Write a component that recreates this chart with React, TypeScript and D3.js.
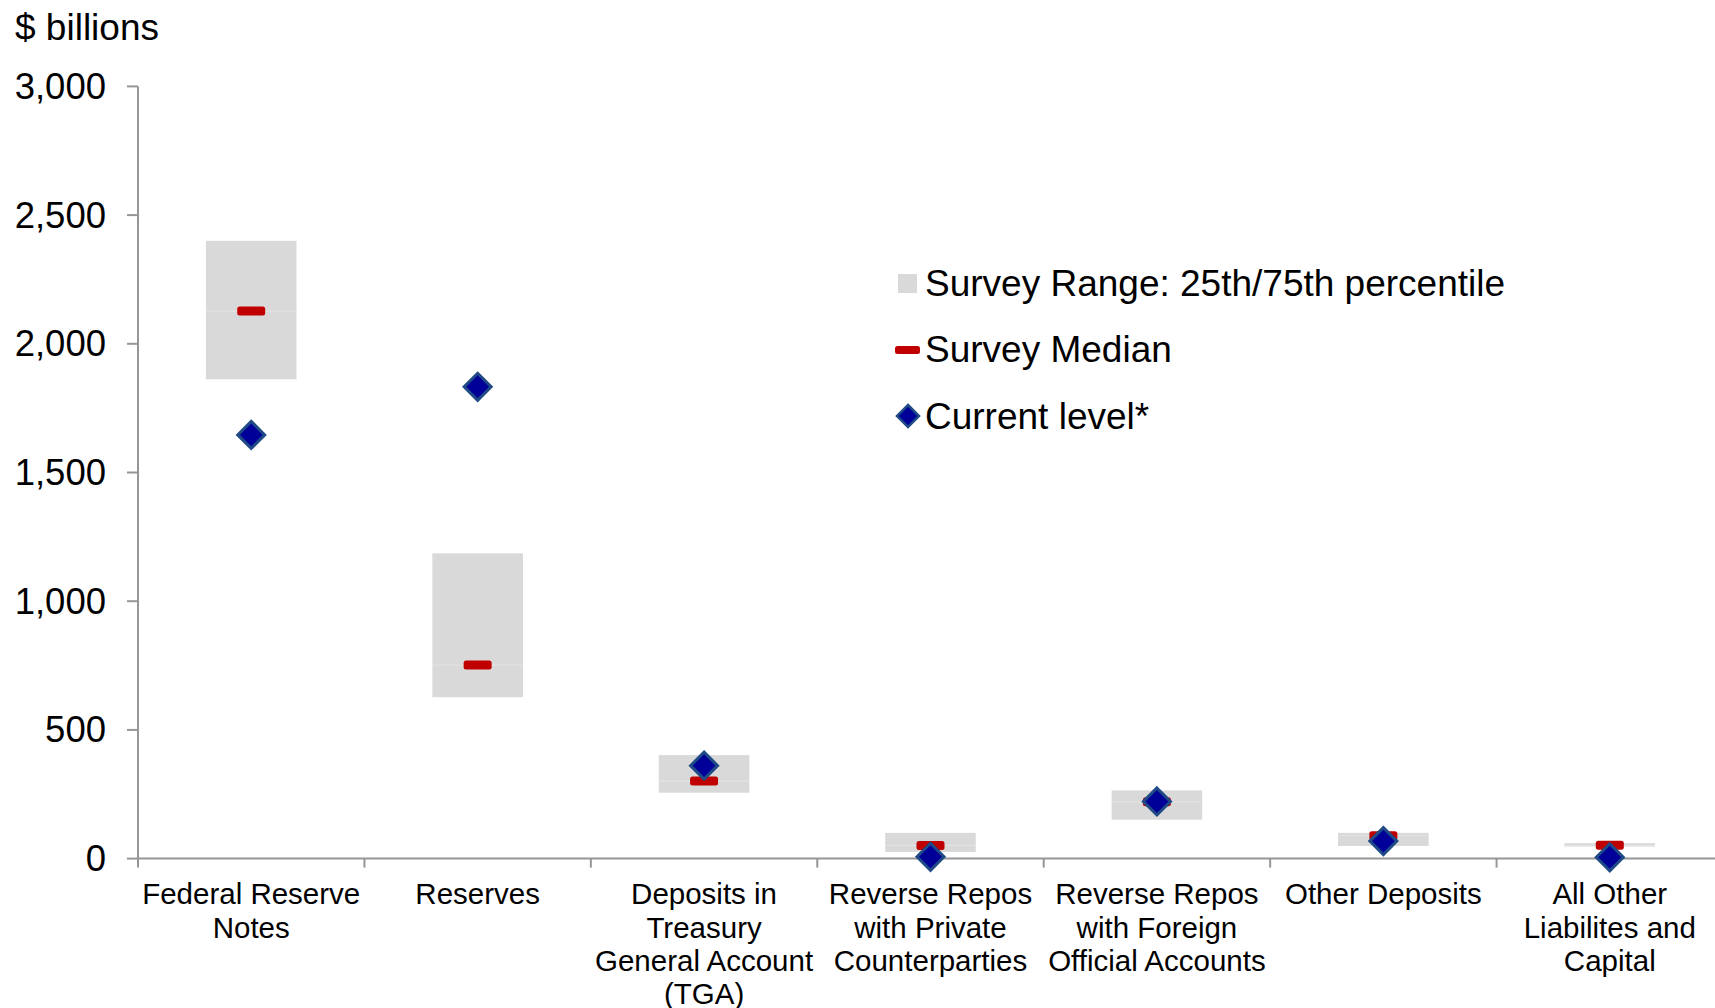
import React from "react";
import * as d3 from "d3";

const categories: string[][] = [
  ["Federal Reserve", "Notes"],
  ["Reserves"],
  ["Deposits in", "Treasury", "General Account", "(TGA)"],
  ["Reverse Repos", "with Private", "Counterparties"],
  ["Reverse Repos", "with Foreign", "Official Accounts"],
  ["Other Deposits"],
  ["All Other", "Liabilites and", "Capital"],
];
const rangeLow = [1862, 627, 256, 26, 151, 49, 47];
const rangeHigh = [2400, 1186, 402, 100, 265, 100, 60];
const median = [2127, 752, 301, 51, 221, 89, 52];
const current = [1646, 1833, 361, 7, 222, 68, 5];
const yTicks = [0, 500, 1000, 1500, 2000, 2500, 3000];
const legendItems = ["Survey Range: 25th/75th percentile", "Survey Median", "Current level*"];

const W = 1715;
const H = 1008;
const FONT = "'Liberation Sans', Arial, sans-serif";

export default function App() {
  const left = 138;
  const right = 1723;
  const y = d3.scaleLinear().domain([0, 3000]).range([858.6, 86.4]);
  const idx = categories.map((_, i) => String(i));
  const x = d3.scaleBand().domain(idx).range([left, right]).paddingInner(0).paddingOuter(0);
  const bw = x.bandwidth();
  const boxW = bw * 0.4;
  const medW = 28;
  const medH = 9;
  const dR = 13.5;
  const axisColor = "#969696";
  const diamond = (cx: number, cy: number, r: number) =>
    `M${cx},${cy - r}L${cx + r},${cy}L${cx},${cy + r}L${cx - r},${cy}Z`;

  return (
    <svg width={W} height={H} style={{ position: "absolute", left: 0, top: 0, background: "#fff" }} fontFamily={FONT}>
      <text x={15} y={27} dominantBaseline="central" fontSize={37} fill="#000">$ billions</text>
      {/* y axis */}
      <line x1={left} x2={left} y1={y(3000)} y2={y(0)} stroke={axisColor} strokeWidth={2} />
      {yTicks.map((t) => (
        <g key={t}>
          <line x1={left - 11} x2={left} y1={y(t)} y2={y(t)} stroke={axisColor} strokeWidth={2} />
          <text x={106} y={y(t)} textAnchor="end" dominantBaseline="central" fontSize={36.5} fill="#000">
            {d3.format(",")(t)}
          </text>
        </g>
      ))}
      {/* boxes */}
      {idx.map((k, i) => {
        const cx = (x(k) as number) + bw / 2;
        return (
          <g key={"b" + k}>
            <rect x={cx - boxW / 2} y={y(rangeHigh[i])} width={boxW} height={y(rangeLow[i]) - y(rangeHigh[i])} fill="#d9d9d9" />
            <line x1={cx - boxW / 2} x2={cx + boxW / 2} y1={y(median[i])} y2={y(median[i])} stroke="#e4e4e4" strokeWidth={1} />
          </g>
        );
      })}
      {/* x axis */}
      <line x1={left} x2={right} y1={y(0)} y2={y(0)} stroke={axisColor} strokeWidth={2} />
      {d3.range(categories.length + 1).map((j) => {
        const xx = left + j * bw;
        return <line key={"t" + j} x1={xx} x2={xx} y1={y(0)} y2={y(0) + 9} stroke={axisColor} strokeWidth={2} />;
      })}
      {/* medians */}
      {idx.map((k, i) => {
        const cx = (x(k) as number) + bw / 2;
        return (
          <rect key={"m" + k} x={cx - medW / 2} y={y(median[i]) - medH / 2} width={medW} height={medH} rx={2.5} fill="#c00000" />
        );
      })}
      {/* current */}
      {idx.map((k, i) => {
        const cx = (x(k) as number) + bw / 2;
        return <path key={"c" + k} d={diamond(cx, y(current[i]), dR)} fill="#000099" stroke="#1f4a86" strokeWidth={3} strokeLinejoin="miter" />;
      })}
      {/* category labels */}
      {idx.map((k, i) => {
        const cx = (x(k) as number) + bw / 2;
        return (
          <text key={"l" + k} textAnchor="middle" fontSize={29.5} fill="#000">
            {categories[i].map((ln, j) => (
              <tspan key={j} x={cx} y={893.6 + j * 33.4} dominantBaseline="central">{ln}</tspan>
            ))}
          </text>
        );
      })}
      {/* legend */}
      <g>
        <rect x={898} y={274} width={19} height={19} fill="#d9d9d9" />
        <rect x={895} y={346} width={25} height={8} rx={2.5} fill="#c00000" />
        <path d={diamond(908, 416, 11)} fill="#000099" stroke="#1f4a86" strokeWidth={2.5} />
        {legendItems.map((t, i) => (
          <text key={t} x={925} y={283 + i * 66.5} dominantBaseline="central" fontSize={37} fill="#000">{t}</text>
        ))}
      </g>
    </svg>
  );
}
